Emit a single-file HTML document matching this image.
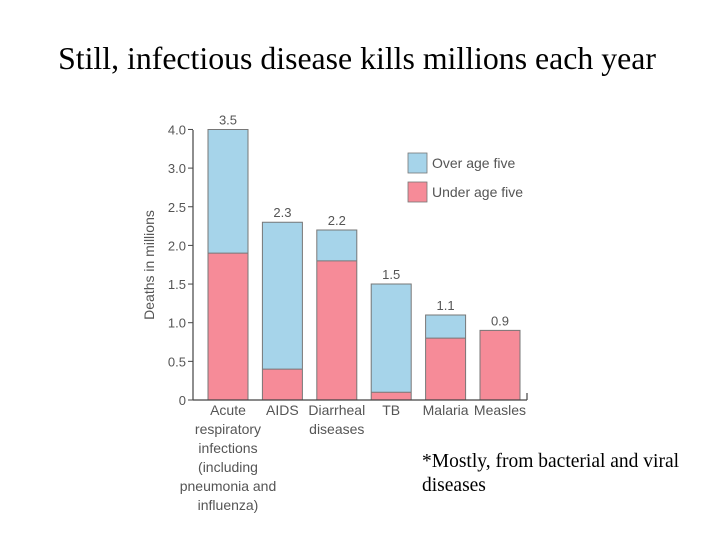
<!DOCTYPE html>
<html><head><meta charset="utf-8"><style>
html,body{margin:0;padding:0;background:#fff;width:720px;height:540px;overflow:hidden}
svg{display:block}
.sans{font-family:"Liberation Sans",sans-serif;fill:#555}
.serif{font-family:"Liberation Serif",serif;fill:#000}
</style></head><body>
<svg id="chart" width="720" height="540">
<text class="serif" x="357" y="69" font-size="31.8" text-anchor="middle">Still, infectious disease kills millions each year</text>
<text class="sans" transform="translate(154,265) rotate(-90)" font-size="14" text-anchor="middle">Deaths in millions</text>
<g id="bars"></g>
<g id="yaxis"></g>
<g id="xlabels"></g>
<line x1="193" y1="400" x2="527" y2="400" stroke="#444" stroke-width="1.2"/>
<line x1="527" y1="393" x2="527" y2="400" stroke="#444" stroke-width="1.2"/>
<line x1="193" y1="130" x2="193" y2="400" stroke="#444" stroke-width="1.2"/>
<rect x="408" y="153" width="19" height="20" fill="#a6d4ea" stroke="#777" stroke-width="0.8"/>
<text class="sans" x="432" y="168" font-size="14">Over age five</text>
<rect x="408" y="182" width="19" height="20" fill="#f68b98" stroke="#777" stroke-width="0.8"/>
<text class="sans" x="432" y="197" font-size="14">Under age five</text>
<text class="serif" x="422" y="467" font-size="19.5">*Mostly, from bacterial and viral</text>
<text class="serif" x="422" y="491" font-size="19.5">diseases</text>
</svg>
<script>
const categories = [["Acute","respiratory","infections","(including","pneumonia and","influenza)"],["AIDS"],["Diarrheal","diseases"],["TB"],["Malaria"],["Measles"]];
const underFive = [1.9, 0.4, 1.8, 0.1, 0.8, 0.9];
const totals = [3.5, 2.3, 2.2, 1.5, 1.1, 0.9];
const tickValues = [0, 0.5, 1.0, 1.5, 2.0, 2.5, 3.0, 3.5];
const tickLabels = ["0","0.5","1.0","1.5","2.0","2.5","3.0","4.0"];
const NS="http://www.w3.org/2000/svg";
const y = v => 400 - v*77.3;
const x = i => 208 + i*54.4;
const bw = 40;
function mk(tag, attrs, parent){const e=document.createElementNS(NS,tag);for(const k in attrs)e.setAttribute(k,attrs[k]);parent.appendChild(e);return e;}
const bars=document.getElementById('bars'), ya=document.getElementById('yaxis'), xl=document.getElementById('xlabels');
totals.forEach((t,i)=>{
  const u=underFive[i];
  if(t>u){const r=mk('rect',{x:x(i),y:y(t),width:bw,height:y(u)-y(t),fill:'#a6d4ea'},bars);
  
  }
  const r2=mk('rect',{x:x(i),y:y(u),width:bw,height:400-y(u),fill:'#f68b98'},bars);
  
  
  const o=mk('path',{d:`M${x(i)},400V${y(t)}H${x(i)+bw}V400M${x(i)},${y(u)}H${x(i)+bw}`,fill:'none',stroke:'#777','stroke-width':1},bars);
  
  
  const vl=mk('text',{x:x(i)+bw/2,y:y(t)-5,'font-size':13,'text-anchor':'middle',class:'sans'},bars);
  vl.textContent=t.toFixed(1);
  
  
  categories[i].forEach((line,j)=>{
    const c=mk('text',{x:x(i)+bw/2,y:415+j*19,'font-size':14,'text-anchor':'middle',class:'sans'},xl);
    c.textContent=line;
    
    
  });
});
tickValues.forEach((v,i)=>{
  const tk=mk('line',{x1:188,x2:193,y1:y(v),y2:y(v),stroke:'#444','stroke-width':1},ya);
  
  
  const tl=mk('text',{x:186,y:y(v)+5,'font-size':13,'text-anchor':'end',class:'sans'},ya);
  tl.textContent=tickLabels[i];
  
  
});
</script>
</body></html>
